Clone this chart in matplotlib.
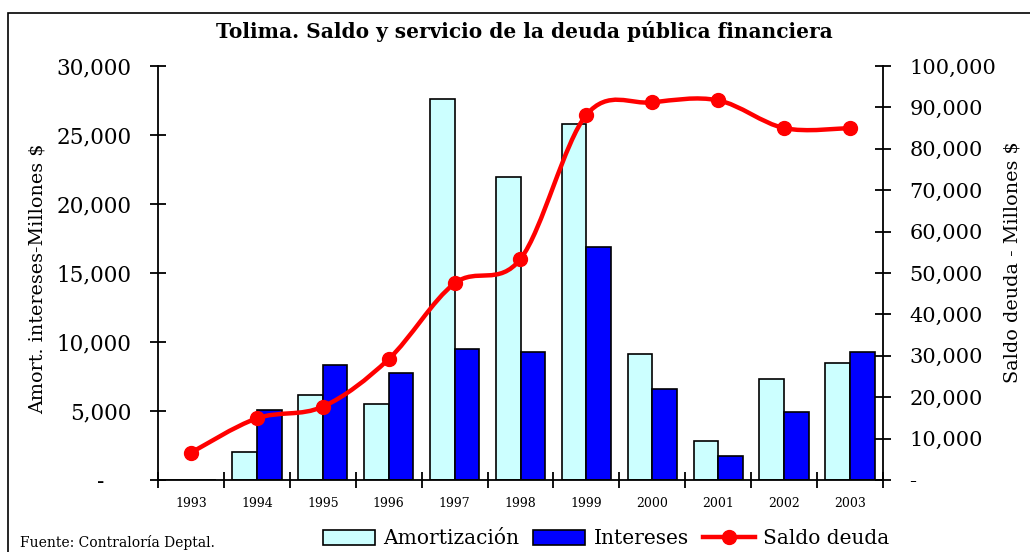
import numpy as np
import matplotlib
matplotlib.use("Agg")
import matplotlib.pyplot as plt
from matplotlib.path import Path
from matplotlib.patches import PathPatch, Patch, Rectangle
from matplotlib.lines import Line2D
import matplotlib.ticker as ticker

years = ['1993', '1994', '1995', '1996', '1997', '1998', '1999', '2000', '2001', '2002', '2003']
amortizacion = [0, 2000, 6150, 5500, 27600, 21950, 25800, 9100, 2800, 7350, 8450]
intereses = [0, 5100, 8300, 7750, 9500, 9250, 16850, 6570, 1750, 4950, 9250]
saldo = [6600, 14900, 17700, 29200, 47500, 53400, 88200, 91200, 91700, 85000, 85000]

plt.rcParams['font.family'] = ['DejaVu Serif']

CYAN = '#CCFFFF'
BLUE = '#0000FF'
RED = '#FF0000'

fig = plt.figure(figsize=(10.3, 5.52), dpi=100)
ax = fig.add_axes([158 / 1030, 1 - 480 / 552, (883 - 158) / 1030, (480 - 66) / 552])
ax2 = ax.twinx()

x = np.arange(len(years))
w = 0.375
ax.bar(x - w / 2, amortizacion, w, color=CYAN, edgecolor='black', linewidth=1.2, zorder=2)
ax.bar(x + w / 2, intereses, w, color=BLUE, edgecolor='black', linewidth=1.2, zorder=2)

# smoothed line (Excel-style bezier through the points)
pts = np.column_stack([x, saldo]).astype(float)
n = len(pts)
verts = [tuple(pts[0])]
codes = [Path.MOVETO]
for i in range(n - 1):
    p0 = pts[max(i - 1, 0)]
    p1 = pts[i]
    p2 = pts[i + 1]
    p3 = pts[min(i + 2, n - 1)]
    c1 = p1 + (p2 - p0) / 6
    c2 = p2 - (p3 - p1) / 6
    verts += [tuple(c1), tuple(c2), tuple(p2)]
    codes += [Path.CURVE4] * 3
ax2.add_patch(PathPatch(Path(verts, codes), fill=False, edgecolor=RED, linewidth=3.2,
                        capstyle='round', joinstyle='round', zorder=3))
ax2.plot(x, saldo, 'o', color=RED, markersize=10, zorder=4)

ax.set_xlim(-0.5, len(years) - 0.5)
ax.set_ylim(0, 30000)
ax2.set_ylim(0, 100000)

ax.set_xticks(np.arange(-0.5, len(years), 1))
ax.set_xticklabels([])
ax.set_xticks(x, minor=True)
ax.set_xticklabels(years, minor=True, fontsize=9)
ax.tick_params(axis='x', which='major', direction='inout', length=12, width=1.3)
ax.tick_params(axis='x', which='minor', length=0, pad=12)

ax.set_yticks(np.arange(0, 30001, 5000))
ax.yaxis.set_major_formatter(ticker.FuncFormatter(lambda v, _: f'{v:,.0f}' if v else '-    '))
ax.tick_params(axis='y', direction='inout', length=12, width=1.3, labelsize=15.5, pad=13)

ax2.set_yticks(np.arange(0, 100001, 10000))
ax2.yaxis.set_major_formatter(ticker.FuncFormatter(lambda v, _: f'{v:,.0f}' if v else '-'))
ax2.tick_params(axis='y', direction='inout', length=12, width=1.3, labelsize=15, pad=13)

for a in (ax, ax2):
    a.spines['top'].set_visible(False)
    for s in ('left', 'right', 'bottom'):
        a.spines[s].set_linewidth(1.3)
ax.spines['right'].set_visible(False)
ax2.spines['left'].set_visible(False)
ax2.spines['bottom'].set_visible(False)

fig.text(38 / 1030, 1 - 279 / 552, 'Amort. intereses-Millones $', rotation=90,
         ha='center', va='center', fontsize=13.8)
fig.text(1013 / 1030, 1 - 262 / 552, 'Saldo deuda - Millones $', rotation=90,
         ha='center', va='center', fontsize=13.8)

fig.text(524 / 1030, 1 - 31 / 552, 'Tolima. Saldo y servicio de la deuda pública financiera',
         ha='center', va='center', fontsize=14.5, fontweight='bold')

fig.text(20 / 1030, 1 - 543 / 552, 'Fuente: Contraloría Deptal.', ha='left', va='center', fontsize=10)

handles = [Patch(facecolor=CYAN, edgecolor='black', linewidth=1.2),
           Patch(facecolor=BLUE, edgecolor='black', linewidth=1.2),
           Line2D([], [], color=RED, linewidth=3.2, marker='o', markersize=10)]
fig.legend(handles, ['Amortización', 'Intereses', 'Saldo deuda'], loc='center',
           bbox_to_anchor=(606 / 1030, 1 - 539 / 552), ncol=3, frameon=False,
           fontsize=14.5, handlelength=2.6, handletextpad=0.4, columnspacing=0.7)

fig.add_artist(Rectangle((8 / 1030, -0.1), 1.2, 1.1 - 13 / 552, transform=fig.transFigure,
                         fill=False, edgecolor='black', linewidth=1.2))

fig.savefig('out.png', dpi=100)
